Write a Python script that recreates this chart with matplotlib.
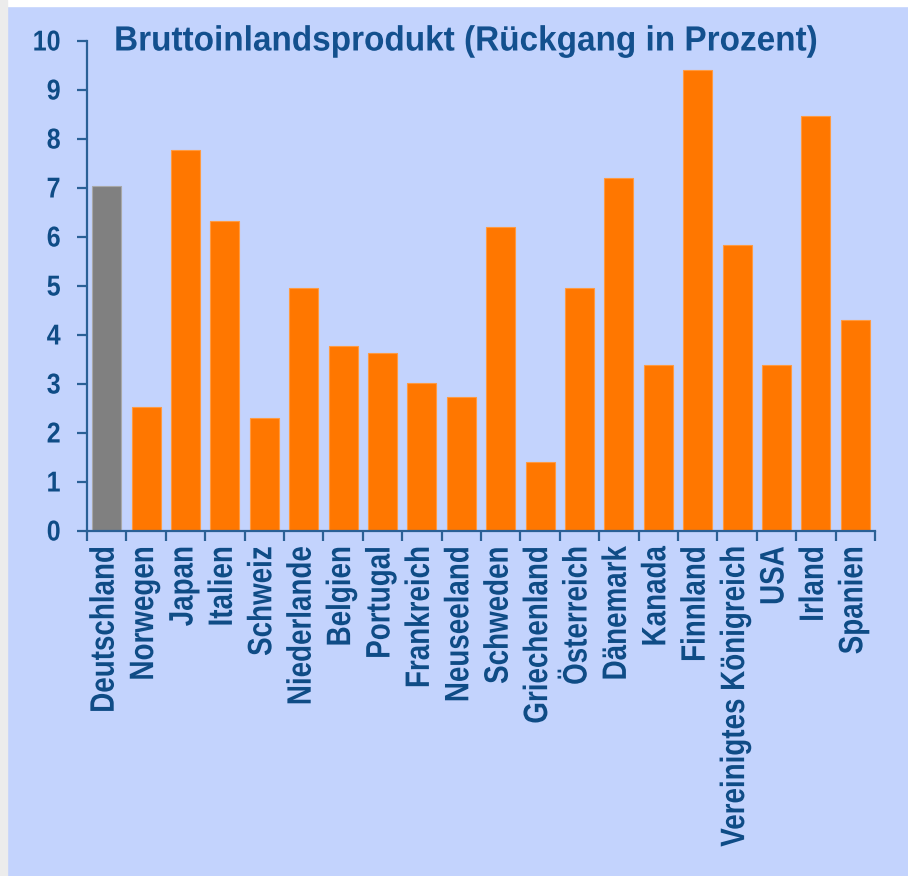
import matplotlib
matplotlib.use("Agg")
import matplotlib.pyplot as plt
from matplotlib.patches import Rectangle
from matplotlib.patheffects import AbstractPathEffect
from matplotlib.transforms import Affine2D

countries = ["Deutschland", "Norwegen", "Japan", "Italien", "Schweiz", "Niederlande",
             "Belgien", "Portugal", "Frankreich", "Neuseeland", "Schweden", "Griechenland",
             "Österreich", "Dänemark", "Kanada", "Finnland", "Vereinigtes Königreich",
             "USA", "Irland", "Spanien"]
decline = [7.05, 2.53, 7.78, 6.33, 2.3, 4.95, 3.78, 3.63, 3.02, 2.73, 6.2, 1.41,
           4.95, 7.2, 3.38, 9.4, 5.84, 3.38, 8.47, 4.3]
highlight = "Deutschland"
title = "Bruttoinlandsprodukt (Rückgang in Prozent)"

bg = "#c3d3fd"
txt = "#0f4c86"
axcol = "#2a6096"


class Tall(AbstractPathEffect):
    # glyphs in the original are taller than wide, stretch them from the baseline
    def __init__(self, s):
        super().__init__()
        self.s = s

    def draw_path(self, renderer, gc, tpath, affine, rgbFace=None):
        renderer.draw_path(gc, tpath, Affine2D().scale(1, self.s) + affine, rgbFace)


fig = plt.figure(figsize=(9.08, 8.76), dpi=100, facecolor=bg)
ax = fig.add_axes([87 / 908, 1 - 531 / 876, 788 / 908, 490 / 876])
ax.set_facecolor("none")

colors = ["#808080" if c == highlight else "#ff7700" for c in countries]
edges = ["#a8a8a8" if c == highlight else "#ff9a40" for c in countries]
x = list(range(len(countries)))
ax.bar(x, decline, width=0.74, color=colors, edgecolor=edges, linewidth=0.8, zorder=2)

ax.set_xlim(-0.5, len(countries) - 0.5)
ax.set_ylim(0, 10)
ax.set_yticks(range(0, 11))
ax.set_yticklabels([str(v) for v in range(0, 11)], fontfamily="Liberation Sans",
                   fontweight="bold", fontsize=18, color=txt)
ax.set_xticks(x)
ax.set_xticklabels(countries, rotation=90, fontfamily="Liberation Sans", fontweight="bold",
                   fontsize=20, color=txt, va="top", ha="center")
ax.set_xticks([i - 0.5 for i in range(len(countries) + 1)], minor=True)
ax.tick_params(axis="x", which="major", length=0, pad=11)
ax.tick_params(axis="x", which="minor", length=7, width=1.6, color=axcol)
ax.tick_params(axis="y", length=7, width=1.6, color=axcol, pad=12)

for lab in ax.get_xticklabels():
    lab.set_path_effects([Tall(1.22)])
for lab in ax.get_yticklabels():
    lab.set_path_effects([Tall(1.15)])

for s in ["top", "right"]:
    ax.spines[s].set_visible(False)
for s in ["left", "bottom"]:
    ax.spines[s].set_color(axcol)
    ax.spines[s].set_linewidth(1.6)

fig.text(467 / 908, 1 - 42 / 876, title, ha="center", va="center",
         fontfamily="Liberation Sans", fontweight="bold", fontsize=24, color="#13508e",
         path_effects=[Tall(1.05)])

# screenshot edges
fig.add_artist(Rectangle((0, 1 - 6 / 876), 1, 6 / 876, transform=fig.transFigure,
                         color="white", zorder=10))
fig.add_artist(Rectangle((0, 0), 7 / 908, 1, transform=fig.transFigure,
                         color="#ececec", zorder=10))

fig.savefig("out.png", dpi=100, facecolor=bg)
